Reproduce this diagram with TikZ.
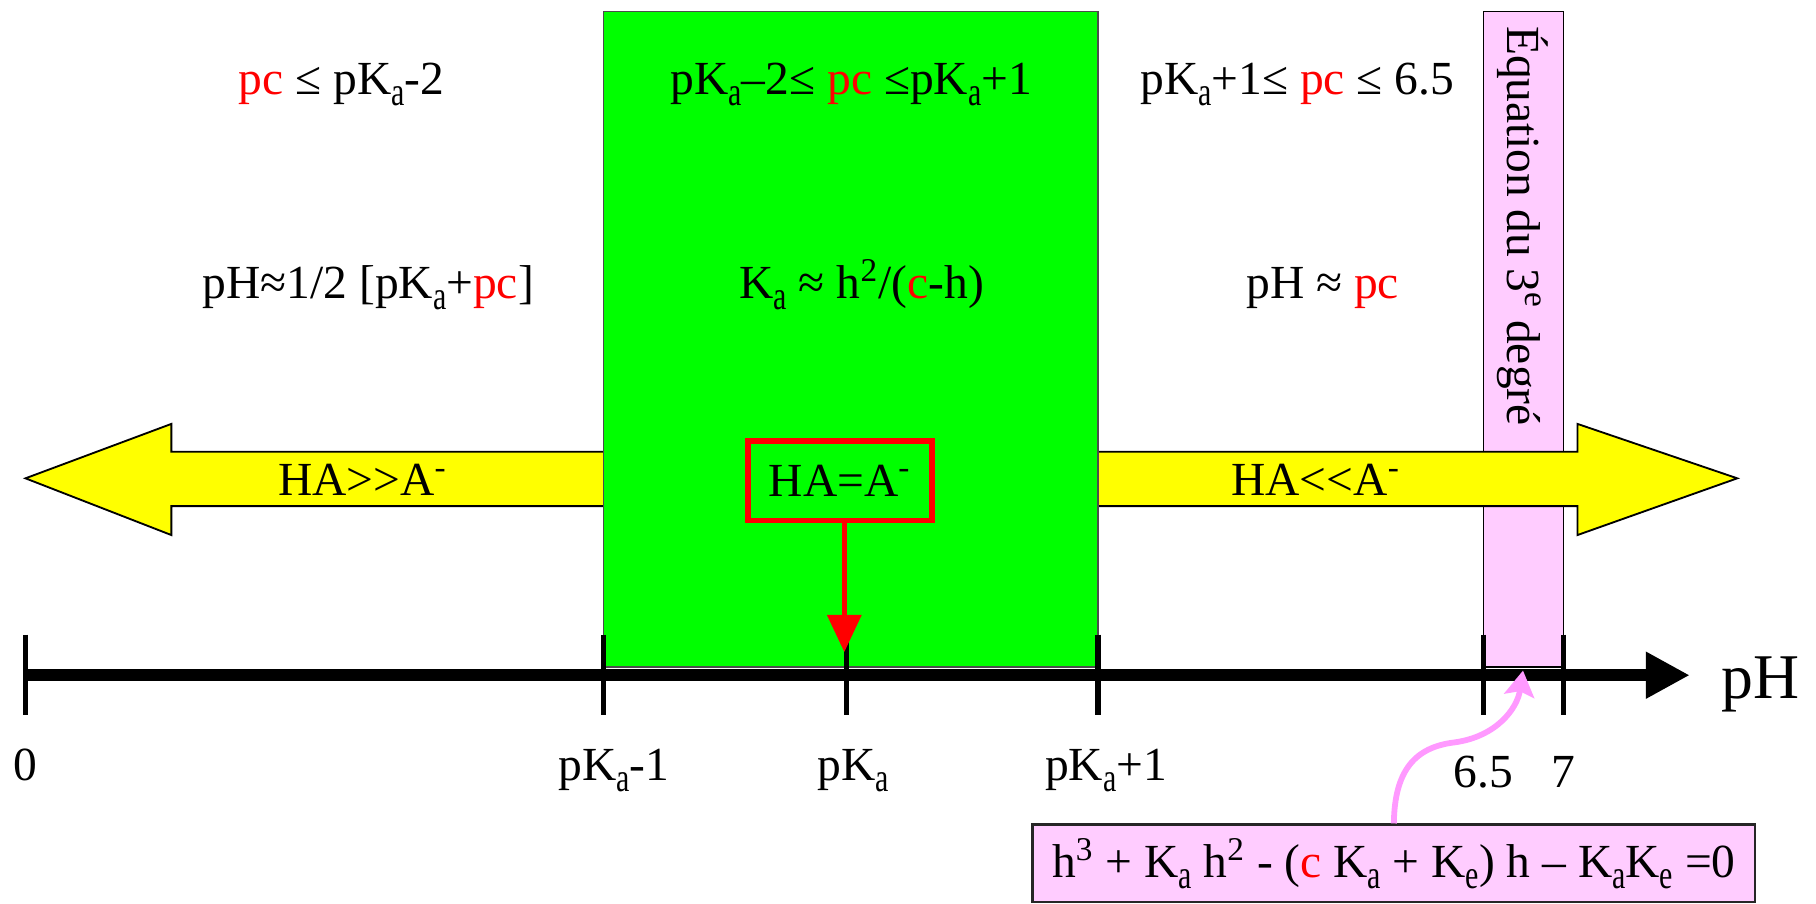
\documentclass[tikz,border=0pt]{standalone}
\usepackage{fontspec}
\usepackage{graphicx}
\setmainfont{Liberation Serif}
\usetikzlibrary{arrows.meta}
\definecolor{vgreen}{HTML}{00FF00}
\definecolor{vyellow}{HTML}{FFFF00}
\definecolor{vpink}{HTML}{FFCCFF}
\definecolor{vred}{HTML}{FF0000}
\definecolor{vmag}{HTML}{FF99FF}
\newcommand{\sbs}[1]{\raisebox{-0.22em}{\scalebox{0.63}[0.85]{#1}}}
\newcommand{\pKa}{pK\sbs{a}}
\newcommand{\rc}[1]{\textcolor{vred}{#1}}
\begin{document}
\begin{tikzpicture}[x=0.5pt,y=-0.5pt,
  txt/.style={font=\fontsize{20.5}{24}\selectfont, inner sep=0pt},
  bigarrow/.style={fill=vyellow, draw=black, line width=0.8pt, line join=miter},
  tickmark/.style={line width=2.2pt},
  ticklabel/.style={txt, anchor=base}]
\useasboundingbox (0,0) rectangle (1568,780);
% pink column (3rd degree equation zone)
\draw[fill=vpink, line width=0.6pt] (1281,10) rectangle (1350,576);
\node[txt, rotate=-90] (col) at (1315,195) {Équation du 3\textsuperscript{e} degré};
% big yellow arrows
\draw[bigarrow] (540,390) -- (148,390) -- (148,366) -- (22,413) -- (148,462) -- (148,437) -- (540,437) -- cycle;
\draw[bigarrow] (930,390) -- (1362,390) -- (1362,366) -- (1500,413) -- (1362,462) -- (1362,437) -- (930,437) -- cycle;
% green zone
\draw[fill=vgreen, draw=black!70, line width=0.6pt] (521,10) rectangle (948,576);
% texts row 1
\node[txt, anchor=base] (t1) at (295,82) {\rc{pc} ≤ \pKa-2};
\node[txt, anchor=base] (t2) at (735,82) {\pKa–2≤ \rc{pc} ≤\pKa+1};
\node[txt, anchor=base] (t3) at (1120,82) {\pKa+1≤ \rc{pc} ≤ 6.5};
% texts row 2
\node[txt, anchor=base] (t4) at (318,258) {pH≈1/2 [\pKa+\rc{pc}]};
\node[txt, anchor=base] (t5) at (744,258) {K\sbs{a} ≈ h\textsuperscript{2}/(\rc{c}-h)};
\node[txt, anchor=base] (t6) at (1142,258) {pH ≈ \rc{pc}};
% arrow labels
\node[txt, anchor=base] (l1) at (313,428) {HA>{}>A\textsuperscript{-}};
\node[txt, anchor=base] (l2) at (1136,428) {HA<{}<A\textsuperscript{-}};
% red box
\node[txt, draw=vred, line width=2.5pt, minimum width=79.5pt, minimum height=34.5pt] (half) at (725,415) {HA=A\textsuperscript{-}};
% axis
\draw[line width=5pt, -{Triangle[length=19pt,width=19pt]}] (22,583) -- (1459,583);
\node[txt, font=\fontsize{27.5}{32}\selectfont, anchor=base west] (ph) at (1486,603) {pH};
\foreach \x/\n in {22/a0, 521/a1, 731/a2, 948/a3, 1281/a4, 1350/a5}
  \draw[tickmark] (\x,548) -- (\x,617) coordinate (\n);
\node[ticklabel] (n0) at (22,674) {0};
\node[ticklabel] (n1) at (530,674) {\pKa-1};
\node[ticklabel] (n2) at (737,674) {\pKa};
\node[ticklabel] (n3) at (955,674) {\pKa+1};
\node[ticklabel] (n4) at (1281,680) {6.5};
\node[ticklabel] (n5) at (1350,680) {7};
% red arrow to pKa
\coordinate (pkatip) at (729,563);
\draw[vred, line width=2pt, -{Triangle[length=16pt,width=14.5pt]}] (half.south -| pkatip) -- (pkatip);
% equation box
\node[txt, draw=black!85, fill=vpink, line width=1pt, minimum width=312pt, minimum height=33.5pt, anchor=north] (eq) at (1203.5,711)
  {h\textsuperscript{3} + K\sbs{a} h\textsuperscript{2} - (\rc{c} K\sbs{a} + K\sbs{e}) h – K\sbs{a}K\sbs{e} =0};
\coordinate (colfoot) at (1315,579);
\draw[vmag, line width=2.5pt, -{Stealth[length=11pt,width=13pt,inset=2pt]}] (eq.north) .. controls (1204,665) and (1222,645) .. (1256,641) .. controls (1292,636) and (1310,612) .. (colfoot);
\end{tikzpicture}
\end{document}
